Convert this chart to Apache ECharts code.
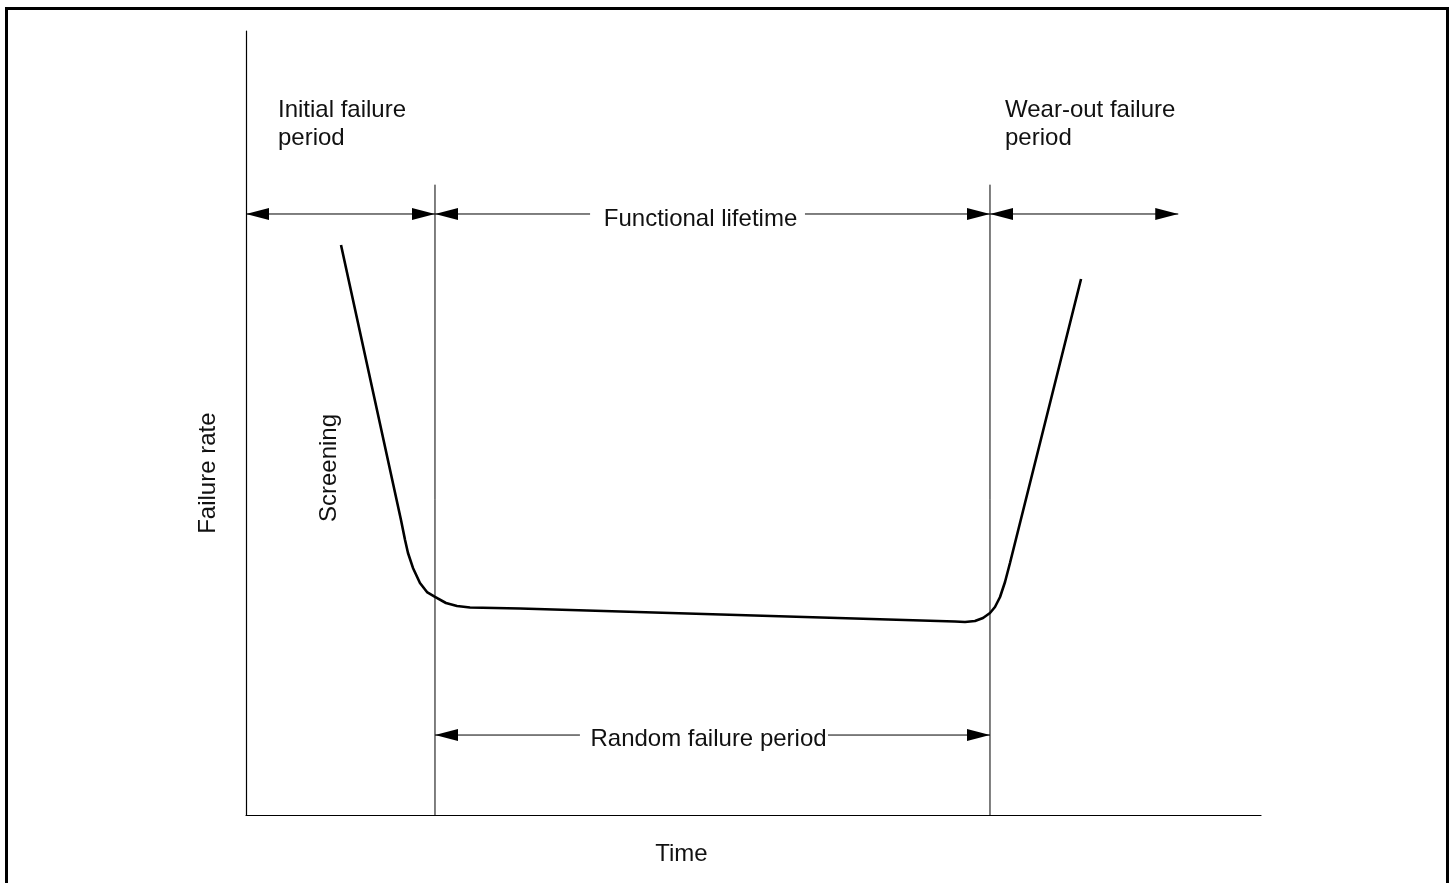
<!DOCTYPE html>
<html><head><meta charset="utf-8">
<script src="https://cdn.jsdelivr.net/npm/echarts@6/dist/echarts.min.js"></script>
<style>html,body{margin:0;padding:0;background:#fff;}#c{width:1453px;height:883px;}</style>
</head><body><div id="c"></div>
<script>
// Bathtub curve: time (0-100) vs failure rate (0-100)
const curveTime = [9.36, 15.27, 15.67, 15.96, 16.45, 17.14, 17.83, 18.62, 19.70, 20.79, 22.07, 27.00, 69.85, 70.84, 71.82, 72.61, 73.30, 73.79, 74.29, 74.78, 75.27, 82.27];
const curveRate = [72.70, 37.63, 35.08, 33.42, 31.51, 29.59, 28.44, 27.81, 27.04, 26.66, 26.47, 26.34, 24.68, 24.62, 24.74, 25.13, 25.77, 26.53, 27.81, 29.72, 32.14, 68.37];
const periodBounds = [18.62, 73.30];
const boundTop = 80.4;
const topArrowLevel = 76.66;
const topArrowStops = [0, 18.62, 73.30, 91.85];
const topTextGap = [33.9, 55.07];
const bottomArrowLevel = 10.2;
const bottomArrowStops = [18.62, 73.30];
const bottomTextGap = [32.9, 57.34];
const labelTexts = ['Initial failure\nperiod', 'Wear-out failure\nperiod', 'Functional lifetime', 'Random failure period', 'Screening', 'Time', 'Failure rate'];

const FONT = "'Liberation Sans', Arial, Helvetica, sans-serif";
const TXT = '#111';
const chart = echarts.init(document.getElementById('c'), null, {renderer: 'canvas'});

function seg(a, b, y) { return [[a, y], [b, y]]; }
function lineSeries(data, width) {
  return {type: 'line', data: data, symbol: 'none', silent: true, animation: false,
    lineStyle: {color: '#000', width: width || 1, opacity: 1}, z: 3};
}

const series = [];
series.push(Object.assign(lineSeries(curveTime.map((t, i) => [t, curveRate[i]]), 2.6), {z: 4}));
periodBounds.forEach(b => series.push(lineSeries([[b, 0], [b, boundTop]], 1)));
// top arrows
series.push(lineSeries(seg(topArrowStops[0], topArrowStops[1], topArrowLevel)));
series.push(lineSeries(seg(topArrowStops[1], topTextGap[0], topArrowLevel)));
series.push(lineSeries(seg(topTextGap[1], topArrowStops[2], topArrowLevel)));
series.push(lineSeries(seg(topArrowStops[2], topArrowStops[3], topArrowLevel)));
// bottom arrows
series.push(lineSeries(seg(bottomArrowStops[0], bottomTextGap[0], bottomArrowLevel)));
series.push(lineSeries(seg(bottomTextGap[1], bottomArrowStops[1], bottomArrowLevel)));

const AW = 12, AL = 23;
function head(x, y, dir) {
  return {value: [x, y], symbolRotate: dir > 0 ? -90 : 90, symbolOffset: [dir > 0 ? -AL / 2 : AL / 2, 0]};
}
const heads = [];
for (let i = 0; i < topArrowStops.length - 1; i++) {
  heads.push(head(topArrowStops[i], topArrowLevel, -1));
  heads.push(head(topArrowStops[i + 1], topArrowLevel, 1));
}
heads.push(head(bottomArrowStops[0], bottomArrowLevel, -1));
heads.push(head(bottomArrowStops[1], bottomArrowLevel, 1));
series.push({type: 'scatter', data: heads, symbol: 'triangle', symbolSize: [AW, AL],
  itemStyle: {color: '#000', opacity: 1}, silent: true, animation: false, clip: false, z: 5});

// text annotations
const lbl = {fontFamily: FONT, fontSize: 24, color: TXT, lineHeight: 28, opacity: 1};
const labelAnchors = [
  {pos: [3.15, 88.14], position: 'right'},
  {pos: [74.78, 88.14], position: 'right'},
  {pos: [44.78, 75.96], position: 'inside'},
  {pos: [45.57, 9.69], position: 'inside'},
  {pos: [8.23, 44.26], position: 'inside', rotate: 90},
  {pos: [42.9, -4.97], position: 'inside'},
  {pos: [-3.74, 43.6], position: 'inside', rotate: 90}
];
series.push({type: 'scatter', symbolSize: 0, silent: true, animation: false, clip: false, z: 6,
  itemStyle: {opacity: 1, color: '#000'},
  data: labelAnchors.map((a, i) => ({value: a.pos, label: Object.assign({show: true, formatter: labelTexts[i],
    position: a.position, distance: 0, rotate: a.rotate || 0, align: a.position === 'right' ? 'left' : 'center'}, lbl)}))
});

const axisCommon = {type: 'value', min: 0, max: 100, axisLine: {show: true, onZero: true, lineStyle: {color: '#000', width: 1.2}},
  axisTick: {show: false}, axisLabel: {show: false}, splitLine: {show: false}};

chart.setOption({
  animation: false,
  backgroundColor: '#fff',
  grid: {left: 246, right: 192, top: 31, bottom: 68, containLabel: false},
  xAxis: Object.assign({}, axisCommon),
  yAxis: Object.assign({}, axisCommon),
  graphic: [{type: 'rect', silent: true, z: -1,
    shape: {x: 6.5, y: 8.5, width: 1441, height: 900},
    style: {fill: 'none', stroke: '#000', lineWidth: 3}}],
  series: series
});
</script></body></html>
